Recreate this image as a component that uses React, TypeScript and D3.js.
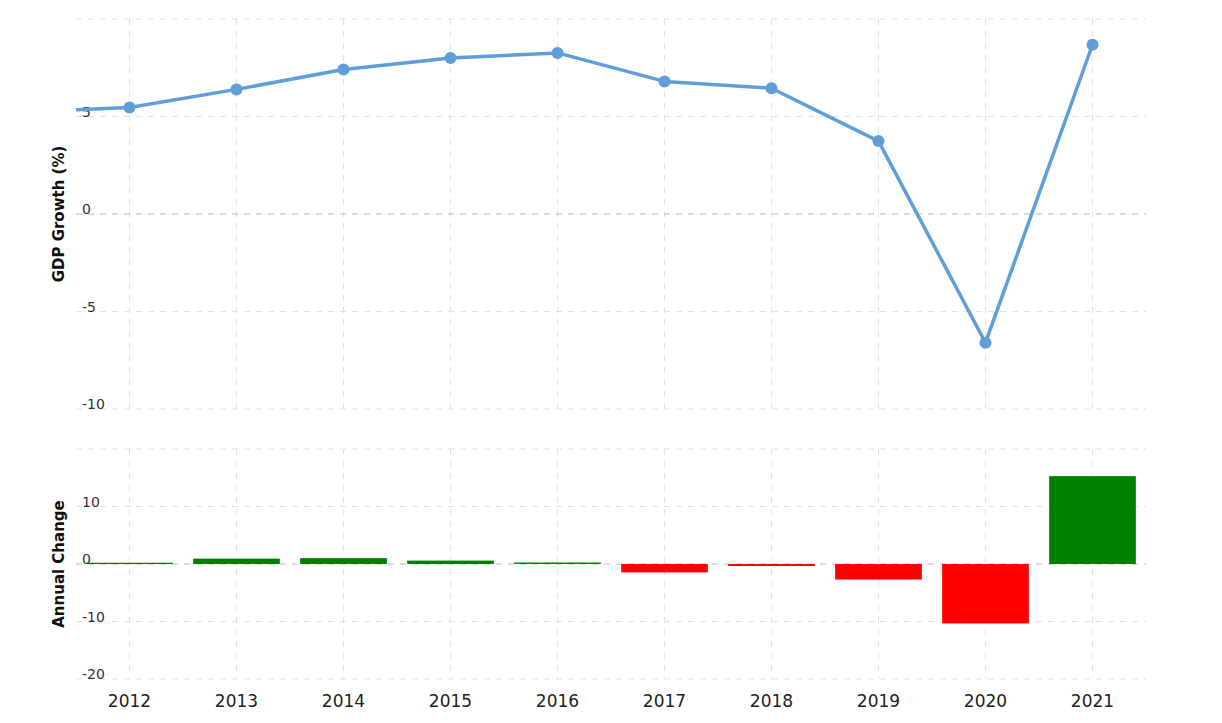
import React from 'react';
import * as d3 from 'd3';

// GDP growth (%) by year; 2011 only feeds the clipped start of the line
const lineYears = [2011, 2012, 2013, 2014, 2015, 2016, 2017, 2018, 2019, 2020, 2021];
const gdpGrowth = [5.24, 5.46, 6.39, 7.41, 8.0, 8.26, 6.8, 6.45, 3.74, -6.6, 8.68];

const barYears = [2012, 2013, 2014, 2015, 2016, 2017, 2018, 2019, 2020, 2021];
const annualChange = [0.22, 0.93, 1.02, 0.59, 0.26, -1.46, -0.35, -2.71, -10.34, 15.28];

const topTicks = [-10, -5, 0, 5, 10];
const topTickLabels = ['-10', '-5', '0', '5', ''];
const bottomTicks = [-20, -10, 0, 10, 20];
const bottomTickLabels = ['-20', '-10', '0', '10', ''];

const W = 1222;
const H = 723;
const FONT = '"DejaVu Sans", Verdana, sans-serif';

export default function App() {
  const left = 76;
  const right = 1146;

  const x = d3.scaleBand<number>().domain(barYears).range([left, right]).paddingInner(0.19).paddingOuter(0.095);
  const step = x.step();
  const cx = (yr: number) => {
    const i = barYears.indexOf(yr);
    if (i >= 0) return (x(yr) as number) + x.bandwidth() / 2;
    return (x(barYears[0]) as number) + x.bandwidth() / 2 - step;
  };

  const yTop = d3.scaleLinear().domain([-10, 10]).range([409, 19]);
  const yBot = d3.scaleLinear().domain([-20, 20]).range([679, 449]);

  const line = d3
    .line<number>()
    .x((_, i) => cx(lineYears[i]))
    .y((d) => yTop(d));

  const gridColor = '#e2e2e2';
  const zeroColor = '#b8b8b8';

  return (
    <svg width={W} height={H} style={{ position: 'absolute', left: 0, top: 0, background: '#fff' }}>
      <defs>
        <clipPath id="plot-clip">
          <rect x={left} y={0} width={right - left + 10} height={430} />
        </clipPath>
      </defs>

      {/* vertical grid */}
      {barYears.map((yr) => (
        <g key={yr}>
          <line x1={cx(yr)} x2={cx(yr)} y1={19} y2={409} stroke={gridColor} strokeDasharray="6,6" />
          <line x1={cx(yr)} x2={cx(yr)} y1={449} y2={679} stroke={gridColor} strokeDasharray="6,6" />
        </g>
      ))}

      {/* top horizontal grid + labels */}
      {topTicks.map((t, i) => (
        <g key={'t' + t}>
          <line
            x1={left}
            x2={right}
            y1={yTop(t)}
            y2={yTop(t)}
            stroke={t === 0 ? zeroColor : gridColor}
            strokeDasharray="6,6"
          />
          <text x={82} y={yTop(t)} fontSize={14} fill="#333" fontFamily={FONT}>
            {topTickLabels[i]}
          </text>
        </g>
      ))}

      {/* bottom horizontal grid + labels */}
      {bottomTicks.map((t, i) => (
        <g key={'b' + t}>
          <line
            x1={left}
            x2={right}
            y1={yBot(t)}
            y2={yBot(t)}
            stroke={t === 0 ? zeroColor : gridColor}
            strokeDasharray="6,6"
          />
          <text x={82} y={yBot(t)} fontSize={14} fill="#333" fontFamily={FONT}>
            {bottomTickLabels[i]}
          </text>
        </g>
      ))}

      {/* axis titles */}
      <text
        transform={`translate(64,${yTop(0)}) rotate(-90)`}
        textAnchor="middle"
        fontSize={15}
        fontWeight="bold"
        fill="#111"
        fontFamily={FONT}
      >
        GDP Growth (%)
      </text>
      <text
        transform={`translate(64,${yBot(0)}) rotate(-90)`}
        textAnchor="middle"
        fontSize={15}
        fontWeight="bold"
        fill="#111"
        fontFamily={FONT}
      >
        Annual Change
      </text>

      {/* GDP line */}
      <g clipPath="url(#plot-clip)">
        <path d={line(gdpGrowth) ?? ''} fill="none" stroke="#5f9ed8" strokeWidth={3.5} strokeLinejoin="round" />
        {gdpGrowth.map((v, i) =>
          lineYears[i] >= barYears[0] ? (
            <circle key={lineYears[i]} cx={cx(lineYears[i])} cy={yTop(v)} r={6} fill="#5f9ed8" />
          ) : null
        )}
      </g>

      {/* annual change bars */}
      {annualChange.map((v, i) => (
        <rect
          key={barYears[i]}
          x={x(barYears[i])}
          width={x.bandwidth()}
          y={yBot(Math.max(0, v))}
          height={Math.abs(yBot(v) - yBot(0))}
          fill={v >= 0 ? '#008000' : '#ff0000'}
        />
      ))}

      {/* x labels */}
      {barYears.map((yr) => (
        <text
          key={'x' + yr}
          x={cx(yr)}
          y={707}
          textAnchor="middle"
          fontSize={17}
          fill="#222"
          fontFamily={FONT}
        >
          {yr}
        </text>
      ))}
    </svg>
  );
}
